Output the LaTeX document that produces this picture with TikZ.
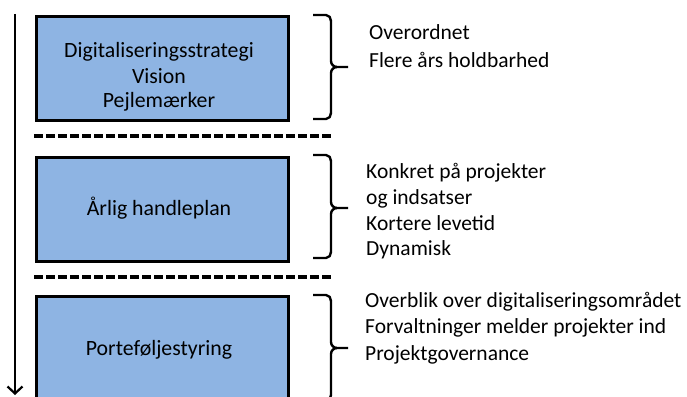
\documentclass[tikz,border=0pt]{standalone}
\usepackage{fontspec}
\setmainfont{Carlito}
\usetikzlibrary{arrows.meta}
\definecolor{boxblue}{HTML}{8EB4E3}
\begin{document}
\begin{tikzpicture}[x=1pt,y=-1pt,
  stagebox/.style={draw=black,line width=3pt,fill=boxblue,minimum width=252pt,inner sep=0pt,anchor=north west},
  boxtext/.style={anchor=base,inner sep=0pt,font=\fontsize{21.8}{25}\selectfont},
  sep/.style={line width=3.4pt,dash pattern=on 8.5pt off 3.5pt},
  bracepath/.style={line width=2.4pt,line join=round},
  note/.style={anchor=base west,inner sep=0pt,font=\fontsize{21.5}{26}\selectfont}]
\useasboundingbox (0,0) rectangle (687,396);
\clip (0,0) rectangle (687,396);
% boxes
\node[stagebox,minimum height=104pt] (b1) at (35,15) {};
\node[stagebox,minimum height=104pt] (b2) at (35,156) {};
\node[stagebox,minimum height=108pt] (b3) at (35,295) {};
\node[boxtext] (b1a) at (159,58) {Digitaliseringsstrategi};
\node[boxtext] (b1b) at (159,83) {Vision};
\node[boxtext] (b1c) at (159,107) {Pejlemærker};
\node[boxtext] (b2a) at (159,215) {Årlig handleplan};
\node[boxtext] (b3a) at (159,355) {Porteføljestyring};
% dashed separators
\coordinate (d1a) at (34,136); \coordinate (d1b) at (332,136);
\coordinate (d2a) at (34,277); \coordinate (d2b) at (332,277);
\draw[sep] (d1a) -- (d1b);
\draw[sep] (d2a) -- (d2b);
% timeline arrow
\coordinate (at) at (15,14); \coordinate (ab) at (15,395);
\draw[line width=2.2pt,-{Straight Barb[length=7pt,width=15pt,line width=2.2pt]}] (at) -- (ab);
% braces
\foreach \t/\m/\b in {15/67/119, 155/208/258, 295/348/401}{
  \draw[bracepath] (313,\t) -- (326,\t) to[out=0,in=90] (331,\t+6) -- (331,\m-6) to[out=270,in=180] (337,\m) -- (348,\m);
  \draw[bracepath] (337,\m) to[out=180,in=90] (331,\m+6) -- (331,\b-6) to[out=270,in=0] (326,\b) -- (313,\b);
}
% notes
\node[note] (n1a) at (369,40) {Overordnet};
\node[note] (n1b) at (369,67) {Flere års holdbarhed};
\node[note] (n2a) at (366,178) {Konkret på projekter};
\node[note] (n2b) at (366,204) {og indsatser};
\node[note] (n2c) at (366,230) {Kortere levetid};
\node[note] (n2d) at (366,255) {Dynamisk};
\node[note] (n3a) at (365,307) {Overblik over digitaliseringsområdet};
\node[note] (n3b) at (365,333) {Forvaltninger melder projekter ind};
\node[note] (n3c) at (365,360) {Projektgovernance};
\end{tikzpicture}
\end{document}
